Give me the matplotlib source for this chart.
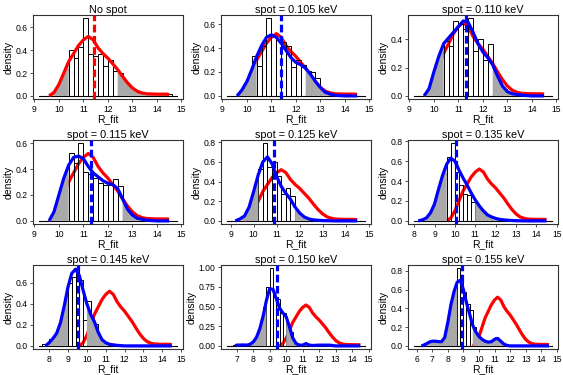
import numpy as np
import matplotlib
matplotlib.use("Agg")
import matplotlib.pyplot as plt

plt.rcParams["font.family"] = ["Liberation Sans", "DejaVu Sans"]

titles = ["No spot", "spot = 0.105 keV", "spot = 0.110 keV",
          "spot = 0.115 keV", "spot = 0.125 keV", "spot = 0.135 keV",
          "spot = 0.145 keV", "spot = 0.150 keV", "spot = 0.155 keV"]

# reference (no spot) density, drawn red in every panel
ref_x = [9.6, 9.8, 10.0, 10.2, 10.4, 10.6, 10.8, 11.0, 11.2, 11.4, 11.6, 11.8,
         12.0, 12.2, 12.4, 12.6, 12.8, 13.0, 13.2, 13.4, 13.6, 14.0, 14.4, 14.5]
ref_y = [0.0, 0.03, 0.10, 0.20, 0.30, 0.37, 0.44, 0.49, 0.52, 0.49, 0.42, 0.37,
         0.33, 0.28, 0.23, 0.17, 0.115, 0.07, 0.04, 0.025, 0.018, 0.015, 0.015, 0.012]

# histogram bars (left edge, density), bin width 0.2
hist_left = [
    [10.2, 10.4, 10.6, 10.8, 11.0, 11.2, 11.4, 11.6, 11.8, 12.0, 12.2, 12.4, 14.4],
    [10.2, 10.4, 10.6, 10.8, 11.0, 11.2, 11.4, 11.6, 11.8, 12.0, 12.2, 12.4, 12.6, 12.8],
    [10.2, 10.4, 10.6, 10.8, 11.0, 11.2, 11.4, 11.6, 11.8, 12.0, 12.2, 12.4, 12.6, 12.8],
    [10.0, 10.2, 10.4, 10.6, 10.8, 11.0, 11.2, 11.4, 11.6, 11.8, 12.0, 12.2, 12.4],
    [9.8, 10.0, 10.2, 10.4, 10.6, 10.8, 11.0, 11.2, 11.4, 11.6],
    [9.2, 9.4, 9.6, 9.8, 10.0, 10.2, 10.4, 10.6, 10.8, 11.0, 11.2, 11.6],
    [7.6, 8.0, 8.8, 9.0, 9.2, 9.4, 9.6, 9.8, 10.0, 10.2, 10.4, 11.4],
    [6.8, 7.8, 8.0, 8.2, 8.4, 8.6, 8.8, 9.0, 9.2, 9.4, 9.6, 9.8, 10.0, 10.2, 11.2],
    [8.0, 8.2, 8.4, 8.6, 8.8, 9.0, 9.2, 9.4, 9.6, 11.0],
]
hist_h = [
    [0.23, 0.40, 0.33, 0.43, 0.68, 0.37, 0.345, 0.365, 0.26, 0.31, 0.22, 0.20, 0.015],
    [0.33, 0.25, 0.42, 0.65, 0.50, 0.47, 0.45, 0.42, 0.24, 0.30, 0.26, 0.21, 0.20, 0.15],
    [0.30, 0.39, 0.35, 0.53, 0.51, 0.47, 0.55, 0.32, 0.40, 0.255, 0.37, 0.07, 0.06, 0.05],
    [0.22, 0.30, 0.52, 0.45, 0.60, 0.38, 0.36, 0.33, 0.29, 0.28, 0.28, 0.32, 0.27],
    [0.14, 0.37, 0.53, 0.79, 0.55, 0.60, 0.46, 0.27, 0.33, 0.25],
    [0.23, 0.47, 0.64, 0.78, 0.49, 0.36, 0.27, 0.26, 0.19, 0.17, 0.06, 0.05],
    [0.02, 0.07, 0.43, 0.60, 0.66, 0.74, 0.63, 0.25, 0.43, 0.23, 0.21, 0.02],
    [0.01, 0.03, 0.07, 0.17, 0.32, 0.50, 0.75, 0.99, 0.62, 0.60, 0.42, 0.42, 0.19, 0.18, 0.03],
    [0.25, 0.45, 0.50, 0.83, 0.70, 0.57, 0.45, 0.38, 0.20, 0.09],
]

# spot densities (blue); panel 0 uses the reference curve
dens_x = [
    ref_x,
    [9.6, 9.8, 10.0, 10.2, 10.4, 10.6, 10.8, 11.0, 11.2, 11.4, 11.6, 11.8, 12.0,
     12.2, 12.4, 12.6, 12.8, 13.0, 13.2, 13.4, 13.6, 14.0, 14.5],
    [9.6, 9.8, 10.0, 10.2, 10.4, 10.6, 10.8, 11.0, 11.2, 11.4, 11.6, 11.8, 12.0,
     12.2, 12.4, 12.6, 12.8, 13.0, 13.2, 13.6, 14.0, 14.5],
    [9.6, 9.8, 10.0, 10.2, 10.4, 10.6, 10.8, 11.0, 11.2, 11.4, 11.6, 11.8, 12.0,
     12.2, 12.4, 12.6, 12.8, 13.0, 13.2, 13.6, 14.0, 14.5],
    [9.2, 9.4, 9.6, 9.8, 10.0, 10.2, 10.4, 10.6, 10.8, 11.0, 11.2, 11.4, 11.6,
     11.8, 12.0, 12.2, 12.4, 12.6, 13.0, 13.6, 14.5],
    [8.2, 8.4, 8.6, 8.8, 9.0, 9.2, 9.4, 9.6, 9.8, 10.0, 10.2, 10.4, 10.6, 10.8,
     11.0, 11.2, 11.4, 11.6, 11.8, 12.0, 12.2, 12.6, 13.0, 13.6, 14.5],
    [7.8, 8.0, 8.2, 8.4, 8.6, 8.8, 9.0, 9.2, 9.4, 9.6, 9.8, 10.0, 10.2, 10.4,
     10.6, 10.8, 11.0, 11.2, 11.6, 12.0, 14.5],
    [6.9, 7.0, 7.4, 7.6, 7.8, 8.0, 8.2, 8.4, 8.6, 8.8, 9.0, 9.2, 9.4, 9.6, 9.8,
     10.0, 10.2, 10.4, 10.6, 10.8, 11.0, 11.2, 11.4, 11.6, 12.0, 12.6, 13.0, 14.5],
    [6.3, 6.4, 6.6, 6.8, 7.0, 7.2, 7.4, 7.6, 7.8, 8.0, 8.2, 8.4, 8.6, 8.8, 9.0,
     9.2, 9.4, 9.6, 9.8, 10.0, 10.2, 10.4, 10.6, 10.8, 11.0, 11.2, 11.4, 11.6,
     11.8, 12.0, 14.5],
]
dens_y = [
    ref_y,
    [0.0, 0.05, 0.12, 0.22, 0.33, 0.42, 0.49, 0.51, 0.49, 0.44, 0.38, 0.32, 0.28,
     0.26, 0.23, 0.18, 0.12, 0.07, 0.03, 0.015, 0.005, 0.0, 0.0],
    [0.0, 0.05, 0.17, 0.28, 0.37, 0.41, 0.45, 0.49, 0.53, 0.52, 0.45, 0.37, 0.31,
     0.27, 0.22, 0.14, 0.07, 0.03, 0.015, 0.005, 0.0, 0.0],
    [0.0, 0.07, 0.20, 0.33, 0.43, 0.49, 0.50, 0.48, 0.42, 0.37, 0.34, 0.31, 0.29,
     0.28, 0.25, 0.17, 0.09, 0.045, 0.02, 0.005, 0.0, 0.0],
    [0.0, 0.02, 0.05, 0.14, 0.30, 0.47, 0.60, 0.65, 0.58, 0.45, 0.35, 0.28, 0.22,
     0.14, 0.08, 0.04, 0.02, 0.01, 0.003, 0.0, 0.0],
    [0.0, 0.01, 0.03, 0.08, 0.17, 0.32, 0.46, 0.57, 0.63, 0.60, 0.51, 0.43, 0.36,
     0.28, 0.21, 0.15, 0.10, 0.06, 0.04, 0.025, 0.015, 0.006, 0.002, 0.0, 0.0],
    [0.0, 0.03, 0.07, 0.12, 0.22, 0.38, 0.56, 0.69, 0.73, 0.67, 0.53, 0.40, 0.30,
     0.23, 0.13, 0.06, 0.03, 0.015, 0.005, 0.0, 0.0],
    [0.0, 0.01, 0.012, 0.01, 0.02, 0.05, 0.11, 0.22, 0.38, 0.58, 0.73, 0.72, 0.60,
     0.48, 0.42, 0.37, 0.24, 0.10, 0.03, 0.01, 0.01, 0.03, 0.01, 0.005, 0.01,
     0.01, 0.0, 0.0],
    [0.0, 0.005, 0.02, 0.04, 0.05, 0.05, 0.045, 0.045, 0.09, 0.25, 0.44, 0.58,
     0.68, 0.70, 0.60, 0.46, 0.34, 0.22, 0.15, 0.10, 0.07, 0.05, 0.04, 0.045,
     0.07, 0.08, 0.05, 0.02, 0.005, 0.0, 0.0],
]

means = [11.43, 11.39, 11.30, 11.31, 10.87, 10.05, 9.55, 9.42, 8.90]
# central (unshaded) interval
mid_lo = [10.4, 10.4, 10.4, 10.4, 10.2, 9.6, 9.0, 8.8, 8.6]
mid_hi = [12.4, 12.4, 12.4, 12.6, 11.8, 11.0, 10.0, 10.0, 9.6]
# full kernel range (thin black base line)
grid_lo = [9.17, 9.17, 9.17, 9.17, 8.82, 7.97, 7.44, 6.38, 5.80]
grid_hi = [14.84, 14.84, 14.84, 14.84, 14.86, 14.79, 14.80, 14.81, 14.72]

W, H = 563, 375
fig = plt.figure(figsize=(W / 100, H / 100), dpi=100)
col_left = [33, 221, 408]
row_top = [15, 140, 265]
bw = 0.2

for i in range(9):
    r, c = divmod(i, 3)
    ax = fig.add_axes([col_left[c] / W, 1 - (row_top[r] + 84) / H, 150 / W, 84 / H])
    main = "red" if i == 0 else "blue"
    x = np.array(dens_x[i])
    y = np.array(dens_y[i])

    ax.plot([grid_lo[i], grid_hi[i]], [0, 0], color="black", lw=0.8, zorder=1)
    if i > 0:
        ax.plot(ref_x, ref_y, color="red", lw=2.3, zorder=2,
                solid_capstyle="butt")
    ax.bar(hist_left[i], hist_h[i], width=bw, align="edge", fill=False,
           edgecolor="black", linewidth=0.7, zorder=3)
    tails = (x <= mid_lo[i] + 1e-9) | (x >= mid_hi[i] - 1e-9)
    ax.fill_between(x, 0, y, where=tails, color="#a9a9a9", lw=0, zorder=4)
    ax.plot(x, y, color=main, lw=2.3, zorder=5, solid_capstyle="butt")
    ax.axvline(means[i], color=main, lw=2.3, linestyle=(0, (2.4, 1.1)), zorder=6)

    w = grid_hi[i] - grid_lo[i]
    ax.set_xlim(grid_lo[i] - 0.04 * w, grid_hi[i] + 0.04 * w)
    m = max(max(hist_h[i]), max(dens_y[i]))
    ax.set_ylim(-0.04 * m, 1.04 * m)
    lo, hi = ax.get_xlim()
    ax.set_xticks(np.arange(np.ceil(lo), np.floor(hi) + 1))
    if i == 7:
        ax.set_yticks([0, 0.25, 0.5, 0.75, 1.0])
        ax.set_yticklabels(["0.00", "0.25", "0.50", "0.75", "1.00"])
    else:
        ax.yaxis.set_major_locator(plt.MultipleLocator(0.2))
        ax.yaxis.set_major_formatter(plt.FormatStrFormatter("%.1f"))

    ax.tick_params(labelsize=6.2, length=2.5, width=0.6, pad=1.5, color="#333333")
    for s in ax.spines.values():
        s.set_linewidth(0.8)
        s.set_color("#333333")
    ax.set_title(titles[i], fontsize=7.8, pad=1.5)
    ax.set_xlabel("R_fit", fontsize=7.5, labelpad=0.5)
    ax.set_ylabel("density", fontsize=7.5, labelpad=1)

fig.savefig("out.png", dpi=100)
